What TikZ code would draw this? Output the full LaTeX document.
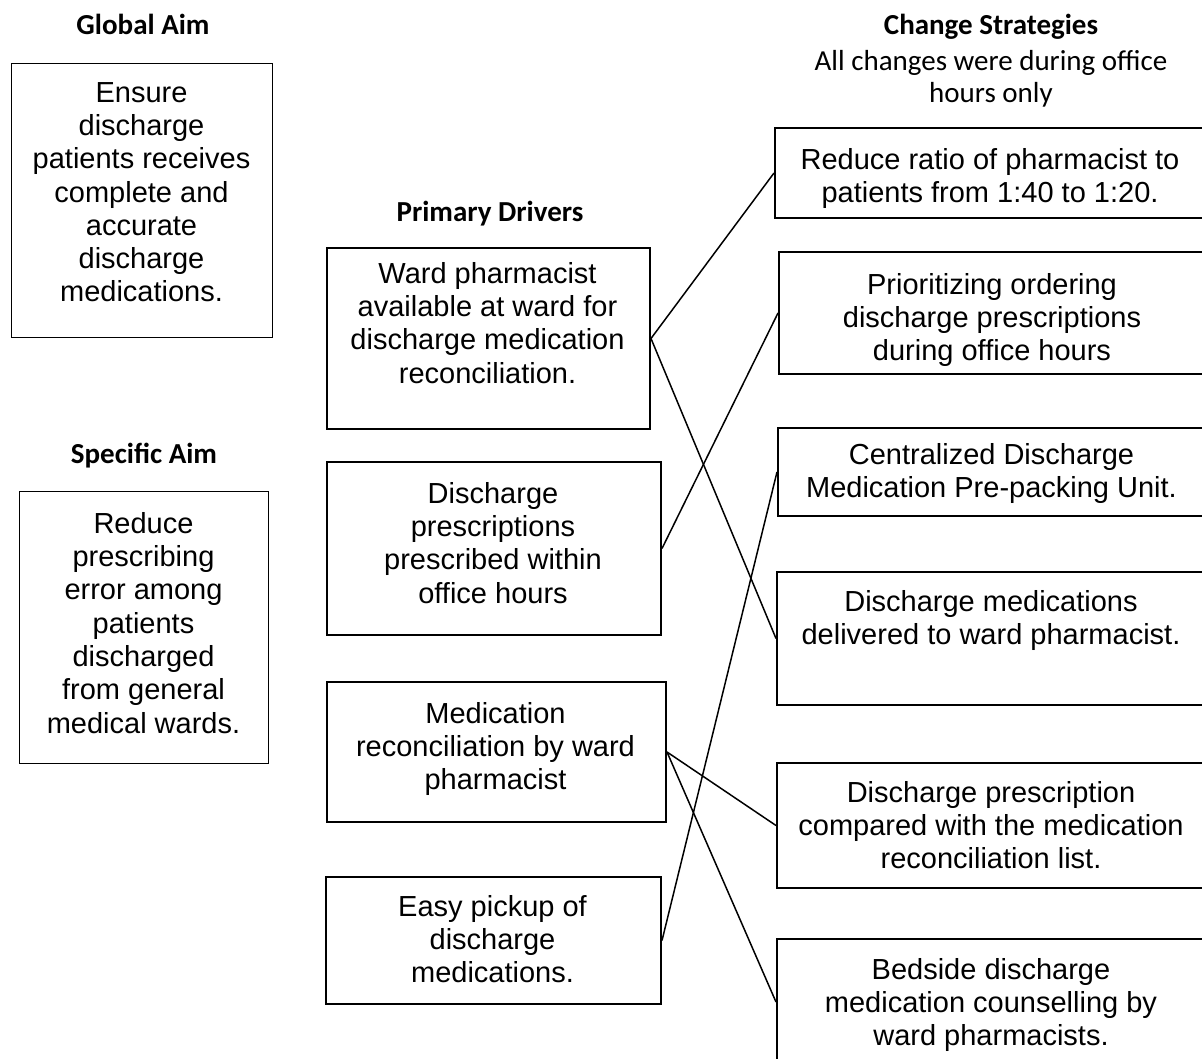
\documentclass[tikz,border=0pt]{standalone}
\usepackage{fontspec}
\setmainfont{Liberation Sans}
\newfontfamily\calibri{Carlito}

\tikzset{
  drvbox/.style={draw, line width=2pt, inner sep=0pt, anchor=north west},
  aimbox/.style={drvbox, line width=1.2pt},
  boxtext/.style={align=center, inner sep=0pt, anchor=north, font=\fontsize{29}{33.3}\selectfont},
  headtext/.style={align=center, inner sep=0pt, anchor=base, font=\calibri\fontsize{29}{33}\selectfont},
  link/.style={line width=1.5pt}
}

\begin{document}
\begin{tikzpicture}[x=1pt,y=-1pt]
\useasboundingbox (0,0) rectangle (1202,1059);
\clip (0,0) rectangle (1202,1059);

% headings
\node[headtext] (hga) at (143,35) {\bfseries Global Aim};
\node[headtext] (hsa) at (144,463) {\bfseries Specific Aim};
\node[headtext] (hpd) at (490,222) {\bfseries Primary Drivers};
\node[headtext] (hcs) at (991,35) {\bfseries Change Strategies};
\node[headtext] (hcs1) at (991,71) {All changes were during office};
\node[headtext] (hcs2) at (991,103) {hours only};

% aims
\node[aimbox, minimum width=261, minimum height=274] (ga) at (11,63) {};
\node[aimbox, minimum width=249, minimum height=272] (sa) at (19,491) {};
\node[boxtext] (ga-t) at (141.5,82) {Ensure\\discharge\\patients receives\\complete and\\accurate\\discharge\\medications.};
\node[boxtext] (sa-t) at (143.5,512) {Reduce\\prescribing\\error among\\patients\\discharged\\from general\\medical wards.};

% primary drivers
\node[drvbox, minimum width=323, minimum height=181] (pd1) at (326,247) {};
\node[drvbox, minimum width=334, minimum height=173] (pd2) at (326,461) {};
\node[drvbox, minimum width=339, minimum height=140] (pd3) at (326,681) {};
\node[drvbox, minimum width=335, minimum height=127] (pd4) at (325,876) {};
\node[boxtext] (pd1-t) at (487.5,262) {Ward pharmacist\\available at ward for\\discharge medication\\reconciliation.};
\node[boxtext] (pd2-t) at (493,482) {Discharge\\prescriptions\\prescribed within\\office hours};
\node[boxtext] (pd3-t) at (495.5,702) {Medication\\reconciliation by ward\\pharmacist};
\node[boxtext] (pd4-t) at (492.5,895) {Easy pickup of\\discharge\\medications.};

% change strategies
\foreach \n/\x/\y/\h in {cs1/774/127/90, cs2/778/251/122, cs3/777/427/88,
                         cs4/776/571/133, cs5/776/762/125, cs6/776/938/126}
  \node[drvbox, minimum width=430, minimum height=\h] (\n) at (\x,\y) {};
\node[boxtext] (cs1-t) at (990,148) {Reduce ratio of pharmacist to\\patients from 1:40 to 1:20.};
\node[boxtext] (cs2-t) at (992,273) {Prioritizing ordering\\discharge prescriptions\\during office hours};
\node[boxtext] (cs3-t) at (991.5,443) {Centralized Discharge\\Medication Pre-packing Unit.};
\node[boxtext] (cs4-t) at (991,590) {Discharge medications\\delivered to ward pharmacist.};
\node[boxtext] (cs5-t) at (991,781) {Discharge prescription\\compared with the medication\\reconciliation list.};
\node[boxtext] (cs6-t) at (991,958) {Bedside discharge\\medication counselling by\\ward pharmacists.};

% links
\foreach \a/\b in {pd1/cs1, pd1/cs4, pd2/cs2, pd3/cs5, pd3/cs6, pd4/cs3}
  \draw[link] (\a.east) -- (\b.west);
\end{tikzpicture}
\end{document}
